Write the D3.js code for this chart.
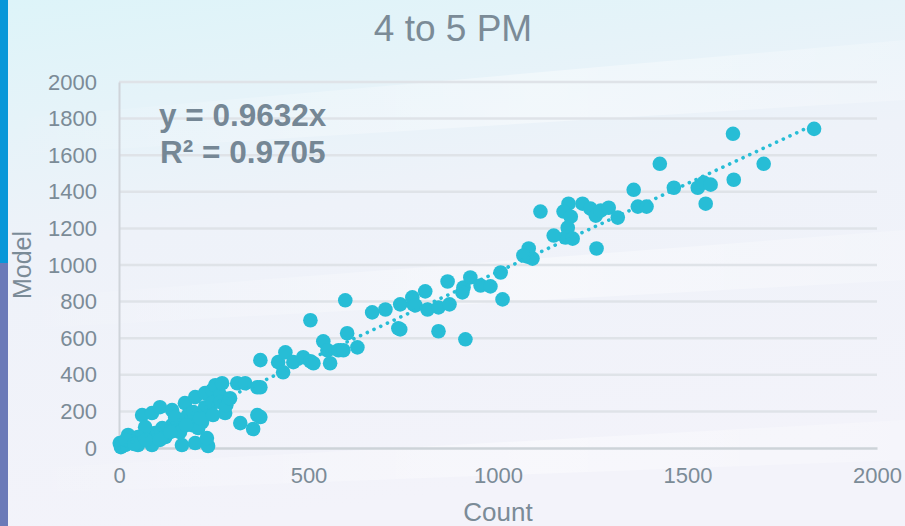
<!DOCTYPE html>
<html>
<head>
<meta charset="utf-8">
<script src="https://cdn.jsdelivr.net/npm/d3@7"></script>
<style>
  html, body { margin: 0; padding: 0; background: #f2f4f9; }
  svg { display: block; font-family: "Liberation Sans", Arial, sans-serif; }
</style>
</head>
<body>
<svg id="chart" width="905" height="526"></svg>
<script>
// Hourly traffic: observed count vs. modelled volume, 4 to 5 PM
const counts = [
  2, 16, 24, 50, 87, 61, 87, 108, 140, 174, 201, 227, 246, 254, 267, 235, 219, 193, 209, 166,
  140, 114, 95, 69, 50, 34, 122, 148, 182, 196, 227, 246, 267, 166, 201, 235, 232, 161, 272, 312,
  333, 365, 365, 354, 320, 280, 5, 18, 40, 71, 108, 135, 177, 214, 248, 283, 293,
  373, 373, 373, 420, 439, 433, 460, 486, 505, 513, 505, 539, 550, 557, 579, 592, 629, 602, 597,
  668, 703, 742, 777, 737, 774, 808, 782, 814, 843, 872, 867, 909, 927, 906, 954, 980, 1007, 1012,
  843, 914, 742, 1078, 1091,
  1358, 1112, 1186, 1173, 1192, 1184, 1178, 1197, 1147, 1223, 1244, 1258, 1271, 1292, 1316, 1369, 1392,
  1260, 1081, 1067,
  1834, 1620, 1427, 1701, 1622, 1464, 1527, 1543, 1561, 1548
];
const modelled = [
  27, 16, 71, 16, 16, 180, 191, 223, 207, 245, 278, 300, 316, 343, 289, 207, 142, 125, 109, 153,
  125, 109, 82, 114, 60, 33, 60, 169, 180, 196, 223, 245, 251, 16, 27, 11, 54, 87, 354, 354,
  354, 332, 180, 104, 136, 191, 5, 44, 22, 44, 44, 87, 125, 163, 180, 234, 272,
  480, 332, 169, 469, 523, 414, 469, 496, 474, 463, 698, 583, 534, 463, 534, 534, 550, 627, 807,
  741, 757, 785, 785, 654, 823, 856, 779, 757, 768, 785, 910, 877, 932, 850, 888, 883, 959, 812,
  638, 594, 648, 1046, 1035,
  1411, 1292, 1335, 1292, 1264, 1204, 1150, 1144, 1161, 1335, 1308, 1270, 1297, 1313, 1259, 1319, 1319,
  1090, 1090, 1052,
  1744, 1717, 1553, 1553, 1466, 1422, 1422, 1450, 1439, 1335
];
const xTicks = [0, 500, 1000, 1500, 2000];
const yTicks = [0, 200, 400, 600, 800, 1000, 1200, 1400, 1600, 1800, 2000];
const slope = 0.9632;
const rSquared = 0.9705;
const chartTitle = "4 to 5 PM";

const W = 905, H = 526;
const svg = d3.select("#chart");
const defs = svg.append("defs");

// Soft backdrop: pale cyan at the top fading to a lavender white
const bg = defs.append("linearGradient").attr("id", "bg")
  .attr("x1", 0).attr("y1", 0).attr("x2", 0.25).attr("y2", 1);
bg.append("stop").attr("offset", 0).attr("stop-color", "#ddf4f9");
bg.append("stop").attr("offset", 0.45).attr("stop-color", "#eef2f9");
bg.append("stop").attr("offset", 1).attr("stop-color", "#f3f3fa");
svg.append("rect").attr("width", W).attr("height", H).attr("fill", "url(#bg)");

// faint diagonal light streaks
const streak = defs.append("linearGradient").attr("id", "streak")
  .attr("x1", 0).attr("y1", 0).attr("x2", 1).attr("y2", 0);
streak.append("stop").attr("offset", 0).attr("stop-color", "#ffffff").attr("stop-opacity", 0);
streak.append("stop").attr("offset", 0.6).attr("stop-color", "#ffffff").attr("stop-opacity", 0.4);
streak.append("stop").attr("offset", 1).attr("stop-color", "#ffffff").attr("stop-opacity", 0.2);
[[0, 120, 905, 40, 60], [0, 300, 905, 230, 50], [0, 470, 905, 420, 40]].forEach(([x0, y0, x1, y1, h]) => {
  svg.append("path")
    .attr("d", `M${x0},${y0} L${x1},${y1} L${x1},${y1 + h} L${x0},${y0 + h * 0.6} Z`)
    .attr("fill", "url(#streak)");
});

// coloured edge band on the left
svg.append("rect").attr("x", 0).attr("y", 0).attr("width", 8).attr("height", 263).attr("fill", "#0897d9");
svg.append("rect").attr("x", 0).attr("y", 263).attr("width", 8).attr("height", H - 263).attr("fill", "#6b7ab8");

const margin = { left: 119, right: 28, top: 82, bottom: 78 };
const x = d3.scaleLinear().domain([0, 2000]).range([margin.left, W - margin.right]);
const y = d3.scaleLinear().domain([0, 2000]).range([H - margin.bottom, margin.top]);

const textColor = "#7b8b97";
const plain = d3.format("d");

// horizontal gridlines
svg.append("g")
  .selectAll("line").data(yTicks.filter(d => d > 0)).join("line")
  .attr("x1", x(0)).attr("x2", x(2000))
  .attr("y1", d => y(d)).attr("y2", d => y(d))
  .attr("stroke", "#dfe3e8").attr("stroke-width", 2.5);

// axes
const yAxis = svg.append("g").attr("transform", `translate(${x(0)},0)`)
  .call(d3.axisLeft(y).tickValues(yTicks).tickFormat(plain).tickSize(0).tickPadding(22));
yAxis.select(".domain").attr("stroke", "#cfd4da").attr("stroke-width", 2);
yAxis.selectAll("text").attr("fill", textColor).attr("font-size", 22)
  .attr("font-family", "Liberation Sans, Arial, sans-serif");

const xAxis = svg.append("g").attr("transform", `translate(0,${y(0)})`)
  .call(d3.axisBottom(x).tickValues(xTicks).tickFormat(plain).tickSize(0).tickPadding(19));
xAxis.select(".domain").attr("stroke", "#cdd3d8").attr("stroke-width", 2.5);
xAxis.selectAll("text").attr("fill", textColor).attr("font-size", 22)
  .attr("font-family", "Liberation Sans, Arial, sans-serif");

// axis titles
svg.append("text").attr("x", x(1000)).attr("y", 521)
  .attr("text-anchor", "middle").attr("fill", textColor).attr("font-size", 26)
  .text("Count");
svg.append("text")
  .attr("transform", `translate(31,${(y(0) + y(2000)) / 2}) rotate(-90)`)
  .attr("text-anchor", "middle").attr("fill", textColor).attr("font-size", 25)
  .text("Model");

// chart title
svg.append("text").attr("x", 453).attr("y", 41)
  .attr("text-anchor", "middle").attr("fill", textColor).attr("font-size", 37)
  .text(chartTitle);

// points
const pointColor = "#27bdd6";
svg.append("g")
  .selectAll("circle").data(counts.map((c, i) => [c, modelled[i]])).join("circle")
  .attr("cx", d => x(d[0])).attr("cy", d => y(d[1]))
  .attr("r", 7.3).attr("fill", pointColor);

// linear trendline through the origin
const xMax = d3.max(counts);
svg.append("line")
  .attr("x1", x(0)).attr("y1", y(0))
  .attr("x2", x(xMax)).attr("y2", y(slope * xMax))
  .attr("stroke", pointColor).attr("stroke-width", 3.6)
  .attr("stroke-linecap", "round").attr("stroke-dasharray", "0.1 7.3");

// equation and fit quality
const eq = svg.append("g").attr("fill", "#758795").attr("font-size", 31.5).attr("font-weight", "bold");
eq.append("text").attr("x", 159).attr("y", 126).text(`y = ${slope.toFixed(4)}x`);
eq.append("text").attr("x", 160).attr("y", 163).text(`R² = ${rSquared.toFixed(4)}`);
</script>
</body>
</html>
